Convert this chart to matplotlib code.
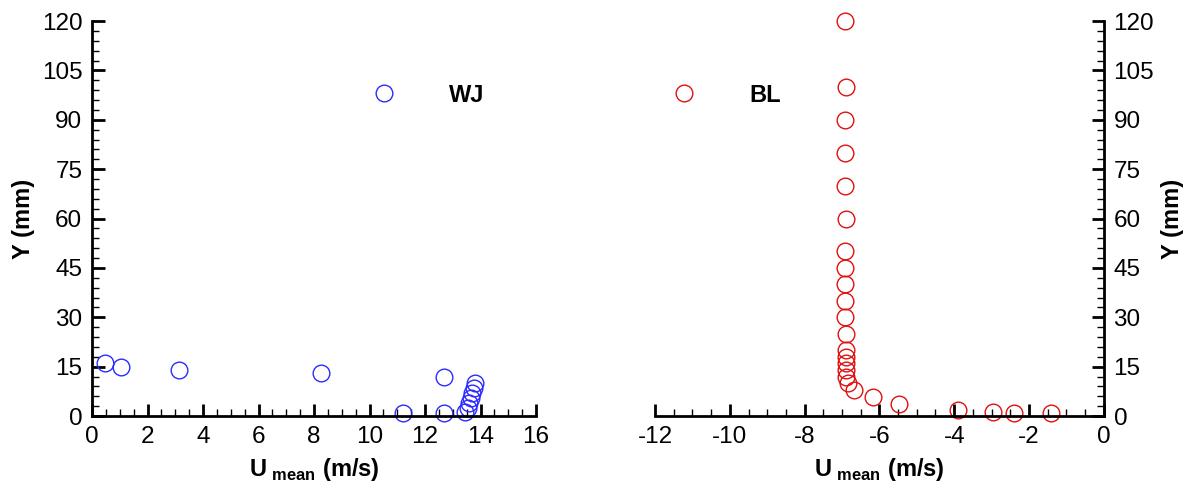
import matplotlib
matplotlib.use("Agg")
from matplotlib import pyplot as plt
from matplotlib.ticker import MultipleLocator

plt.rcParams['font.family'] = ['Liberation Sans', 'DejaVu Sans']
plt.rcParams['mathtext.fontset'] = 'custom'
plt.rcParams['mathtext.bf'] = 'Liberation Sans:bold'
plt.rcParams['mathtext.rm'] = 'Liberation Sans'
plt.rcParams['axes.unicode_minus'] = False

# wall jet profile
wj_u = [0.45, 1.05, 3.15, 8.25, 12.7, 11.2, 12.7, 13.45, 13.55, 13.6, 13.65, 13.7, 13.75, 13.8]
wj_y = [16, 15, 14, 13, 12, 0.8, 0.9, 1.3, 2.5, 4.0, 5.5, 7.0, 8.5, 10.0]

# boundary layer profile
bl_u = [-6.92, -6.9, -6.92, -6.92, -6.92, -6.9, -6.92, -6.92, -6.92, -6.92, -6.92, -6.9,
        -6.9, -6.9, -6.88, -6.88, -6.88, -6.85, -6.68, -6.18, -5.48, -3.9, -2.95, -2.4, -1.4]
bl_y = [120, 100, 90, 80, 70, 60, 50, 45, 40, 35, 30, 25,
        20, 18, 16, 14, 12, 10, 8, 5.8, 3.6, 1.8, 1.3, 0.8, 0.9]

fig = plt.figure(figsize=(11.92, 4.9), dpi=100)
ax1 = fig.add_axes([0.0772, 0.151, 0.3725, 0.806])
ax2 = fig.add_axes([0.5495, 0.151, 0.3765, 0.806])

xlabel = r'$\mathbf{U}_{\ \mathbf{mean}}$ (m/s)'

def style(ax, side):
    ax.set_ylim(0, 120)
    ax.yaxis.set_major_locator(MultipleLocator(15))
    ax.yaxis.set_minor_locator(MultipleLocator(3))
    ax.xaxis.set_major_locator(MultipleLocator(2))
    ax.xaxis.set_minor_locator(MultipleLocator(0.5))
    ax.spines['top'].set_visible(False)
    other = 'right' if side == 'left' else 'left'
    ax.spines[other].set_visible(False)
    for s in ('bottom', side):
        ax.spines[s].set_linewidth(2)
    ax.tick_params(which='both', direction='in', labelsize=17.5, pad=7,
                   top=False, bottom=True)
    ax.tick_params(which='major', length=9, width=2)
    ax.tick_params(which='minor', length=5, width=1)
    if side == 'right':
        ax.yaxis.tick_right()
        ax.yaxis.set_label_position('right')
        ax.tick_params(axis='y', which='both', left=False, right=True)
    else:
        ax.tick_params(axis='y', which='both', left=True, right=False)
    ax.set_ylabel('Y (mm)', fontsize=17, fontweight='bold', labelpad=5)
    ax.set_xlabel(xlabel, fontsize=17, fontweight='bold', labelpad=6)

ax1.plot(wj_u, wj_y, 'o', mfc='none', mec='#2b2bff', ms=12, mew=1, label='WJ', clip_on=False)
ax1.set_xlim(0, 16)
style(ax1, 'left')

ax2.plot(bl_u, bl_y, 'o', mfc='none', mec='#e01010', ms=12, mew=1, label='BL', clip_on=False)
ax2.set_xlim(-12, 0)
style(ax2, 'right')

for ax, xpos in ((ax1, 0.6156), (ax2, 0.023)):
    leg = ax.legend(loc='center left', bbox_to_anchor=(xpos, 0.8125), frameon=False,
                    numpoints=1, handlelength=1.6, handletextpad=1.95, borderpad=0,
                    borderaxespad=0, prop={'size': 17, 'weight': 'bold'})

fig.savefig('out.png', dpi=100)
